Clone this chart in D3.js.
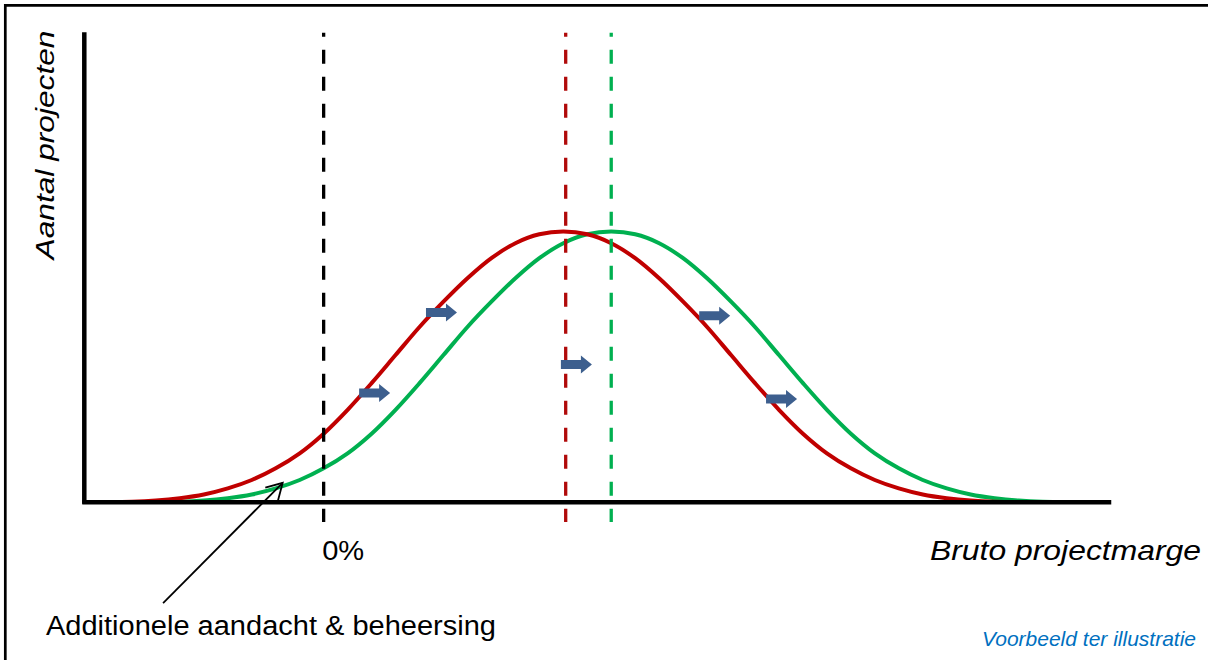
<!DOCTYPE html>
<html><head><meta charset="utf-8">
<script src="https://cdn.jsdelivr.net/npm/d3@7"></script>
<style>html,body{margin:0;padding:0;background:#fff;} svg{display:block;font-family:"Liberation Sans",Arial,sans-serif;}</style>
</head><body><svg id="c" width="1208" height="660"></svg>
<script>
// ---- data (x = margin units, 0 = 0%) ----
const redX   = [-9,-8,-7,-6,-5,-4,-3,-2,-1,0,1,2,3,4,5,6,7,8,9,10,11,12,13,14,15,16,17,18,19,20,21,22,23,24,25,26,27,28,29];
const redY   = [0,0.05,0.3,0.8,1.6,2.9,4.7,7.2,10.4,14.6,19.7,25.4,31.4,37.4,42.8,47.8,52.1,55.3,57.2,57.8,57.2,55.3,52.1,47.8,42.8,37.4,31.4,25.4,19.7,14.6,10.4,7.2,4.7,2.9,1.6,0.8,0.3,0.05,0];
const greenX = [-7,-6,-5,-4,-3,-2,-1,0,1,2,3,4,5,6,7,8,9,10,11,12,13,14,15,16,17,18,19,20,21,22,23,24,25,26,27,28,29,30,31];
const greenY = [0,0.05,0.3,0.8,1.6,2.9,4.7,7.2,10.4,14.6,19.7,25.4,31.4,37.4,42.8,47.8,52.1,55.3,57.2,57.8,57.2,55.3,52.1,47.8,42.8,37.4,31.4,25.4,19.7,14.6,10.4,7.2,4.7,2.9,1.6,0.8,0.3,0.05,0];
const refX   = [0, 10.1, 12.0];            // 0%, mean before, mean after
const arrowX = [1.48, 4.27, 9.9, 15.67, 18.46];
const arrowY = [23.3, 40.5, 29.4, 39.8, 22.0];
const xTickValues = [0];
const xTickLabels = ['0%'];
const noteFrom = [-6.70, -21.6];
const noteTo   = [-1.71, 4.1];

// ---- styles ----
const RED = '#C00000', GREEN = '#00B050', BLUE = '#3D5F8E';
const refColors = ['#000000', '#B00A0A', '#00B050'];

const svg = d3.select('#c');
svg.append('rect').attr('width',1208).attr('height',660).attr('fill','#fff');
// frame (top & left visible)
svg.append('path').attr('d','M5.3,660V5.3H1208').attr('fill','none').attr('stroke','#000').attr('stroke-width',2.7);

const x = d3.scaleLinear().domain([-10, 32.75]).range([84, 1108.5]);
const y = d3.scaleLinear().domain([0, 100]).range([502, 34]);

const line = (xs, ys) => d3.line().x((d,i)=>x(xs[i])).y((d,i)=>y(ys[i])).curve(d3.curveCatmullRom.alpha(0.5))(xs);

svg.append('path').attr('d', line(greenX, greenY)).attr('fill','none').attr('stroke',GREEN).attr('stroke-width',4);
svg.append('path').attr('d', line(redX, redY)).attr('fill','none').attr('stroke',RED).attr('stroke-width',4);

// axes
const gx = svg.append('g').attr('transform','translate(0,501.8)')
  .call(d3.axisBottom(x).tickValues([]).tickSizeOuter(0));
gx.select('.domain').attr('stroke','#000').attr('stroke-width',4.5).attr('stroke-linecap','square');
const gy = svg.append('g').attr('transform','translate(83.8,0)')
  .call(d3.axisLeft(y.copy().range([501,34])).tickValues([]).tickSizeOuter(0));
gy.select('.domain').attr('stroke','#000').attr('stroke-width',4.5).attr('stroke-linecap','square');

// dashed reference lines
svg.selectAll('line.ref').data(refX).join('line').attr('class','ref')
  .attr('x1',d=>x(d)).attr('x2',d=>x(d)).attr('y1',32.7).attr('y2',522)
  .attr('stroke',(d,i)=>refColors[i]).attr('stroke-width',3.3)
  .attr('stroke-dasharray','14,13').attr('stroke-dashoffset',10);

// block arrows
svg.selectAll('path.blk').data(arrowX).join('path').attr('class','blk')
  .attr('transform',(d,i)=>`translate(${x(d)},${y(arrowY[i])})`)
  .attr('d','M0,-4.5H20V-9L31,0L20,9V4.5H0Z').attr('fill',BLUE);

// tick label
svg.selectAll('text.tick').data(xTickValues).join('text').attr('class','tick')
  .attr('x',d=>x(d)-1.5).attr('y',560).attr('font-size',28).attr('fill','#000')
  .attr('textLength',42).attr('lengthAdjust','spacingAndGlyphs')
  .text((d,i)=>xTickLabels[i]);

// axis titles
svg.append('text').attr('x',930).attr('y',559.5).attr('font-size',28).attr('font-style','italic')
  .attr('textLength',271).attr('lengthAdjust','spacingAndGlyphs').text('Bruto projectmarge');
svg.append('text').attr('transform','translate(54,259.5) rotate(-90)').attr('font-size',26).attr('font-style','italic')
  .attr('textLength',229).attr('lengthAdjust','spacingAndGlyphs').text('Aantal projecten');

// annotation
const tx = x(noteTo[0]), ty = y(noteTo[1]), fx = x(noteFrom[0]), fy = y(noteFrom[1]);
svg.append('line').attr('x1',fx).attr('y1',fy).attr('x2',tx).attr('y2',ty).attr('stroke','#000').attr('stroke-width',1.8);
const ang = Math.atan2(fy-ty, fx-tx), L = 18, A = Math.PI/6;
svg.append('path')
  .attr('d',`M${tx+L*Math.cos(ang+A)},${ty+L*Math.sin(ang+A)}L${tx},${ty}L${tx+L*Math.cos(ang-A)},${ty+L*Math.sin(ang-A)}`)
  .attr('fill','none').attr('stroke','#000').attr('stroke-width',1.8);
svg.append('text').attr('x',46).attr('y',635).attr('font-size',27).attr('fill','#000')
  .attr('textLength',450).attr('lengthAdjust','spacingAndGlyphs').text('Additionele aandacht & beheersing');

svg.append('text').attr('x',982).attr('y',646).attr('font-size',21).attr('font-style','italic').attr('fill','#0070C0')
  .attr('textLength',214).attr('lengthAdjust','spacingAndGlyphs').text('Voorbeeld ter illustratie');
</script></body></html>
